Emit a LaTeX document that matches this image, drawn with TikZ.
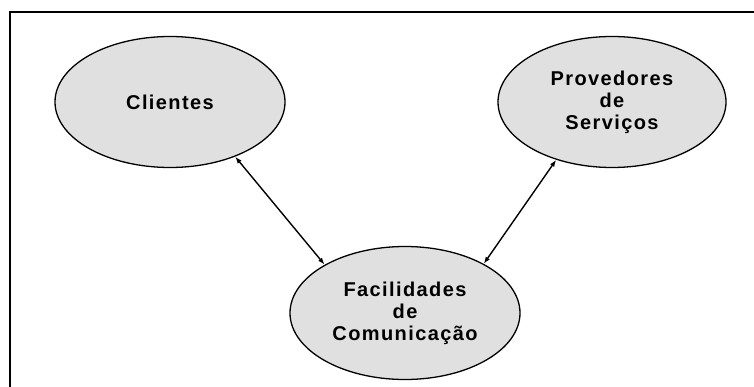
\documentclass[tikz,border=0pt]{standalone}
\usepackage{fontspec}
\setmainfont{Liberation Sans}[LetterSpace=7]
\usetikzlibrary{shapes.geometric,arrows.meta}
\definecolor{ellfill}{HTML}{E0E0E0}
\tikzset{
  entity/.style={ellipse, draw=black, line width=1.3pt, fill=ellfill,
    minimum width=230pt, minimum height=131pt, inner sep=0pt,
    align=center, font=\fontsize{20}{22}\selectfont\bfseries},
  link/.style={line width=1.4pt, {Latex[length=7pt,width=5pt]}-{Latex[length=7pt,width=5pt]}},
  frame/.style={line width=2pt}
}
\begin{document}
\begin{tikzpicture}[x=1pt,y=-1pt]
\useasboundingbox (0,0) rectangle (754,387);
\coordinate (ftl) at (10,12);
\coordinate (ftr) at (754,12);
\coordinate (fbl) at (10,387);
\draw[frame] (ftr) -- (ftl) -- (fbl);
\node[entity] (cli) at (170,102) {Clientes};
\node[entity, minimum width=228pt] (prov) at (612,102) {Provedores\\de\\Serviços};
\node[entity, minimum height=133pt] (fac) at (405,313) {Facilidades\\de\\Comunicação};
\draw[link] (cli.-40) -- (fac.149);
\draw[link] (prov.226) -- (fac.32);
\end{tikzpicture}
\end{document}
